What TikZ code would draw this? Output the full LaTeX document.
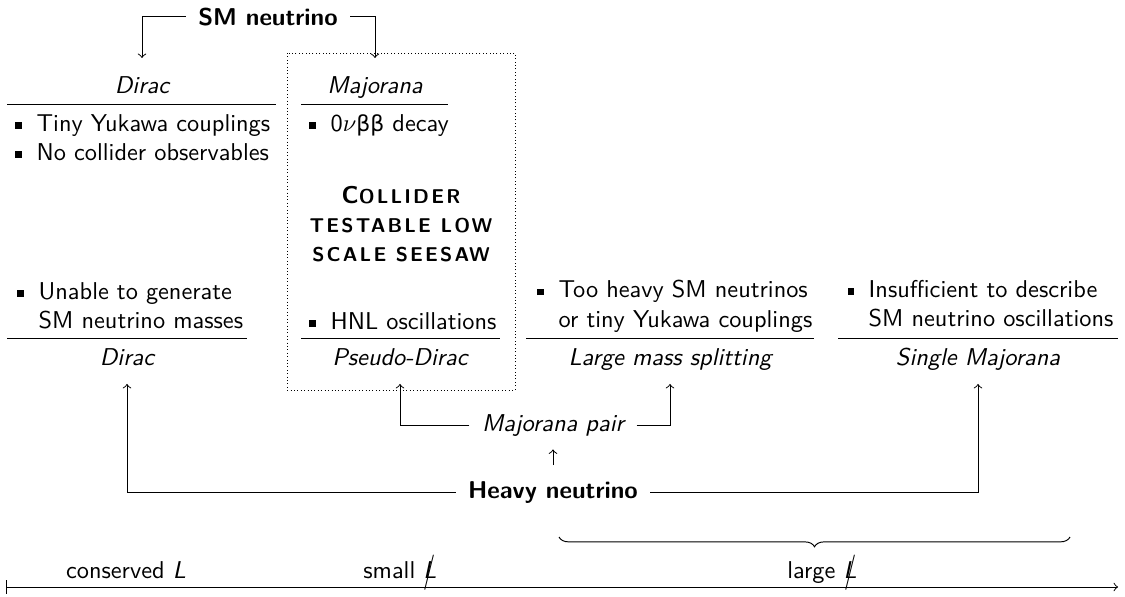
\documentclass[tikz,border=0pt]{standalone}
\usepackage{fontspec}
\usetikzlibrary{decorations.pathreplacing}
\newfontfamily\grkfont[Scale=0.9]{DejaVu Sans}
\newfontfamily\scfam[LetterSpace=11]{lmsans10-bold.otf}
\newcommand{\sqbul}{\makebox[8.7pt][l]{\raisebox{1.1pt}{\rule{2.7pt}{2.7pt}}}}
\newcommand{\hang}{\hspace*{8.7pt}}
\newcommand{\scx}{\scfam\fontsize{8.2pt}{11.5pt}\selectfont}
\newcommand{\Lbar}{\ooalign{\textit{L}\cr\hidewidth\raisebox{-0.35ex}{\scalebox{1}[1.45]{/}}\hidewidth\cr}}
\begin{document}
\begin{tikzpicture}[x=0.411pt, y=-0.411pt, font=\sffamily,
	ttl/.style={font=\sffamily\itshape, anchor=base, text height=9.2pt, text depth=2.6pt, inner ysep=5pt},
	blk/.style={anchor=north west, align=left, inner sep=0pt},
	hdr/.style={anchor=base, inner xsep=5pt},
	arr/.style={->, black}]
	\useasboundingbox (0,0) rectangle (1125,596);

	\node[hdr, font=\sffamily\bfseries] (smnu) at (268,25) {SM neutrino};
	\node[ttl] (dirA) at (142,93) {Dirac};
	\node[ttl] (majA) at (375,93) {Majorana};
	\node[ttl] (dirB) at (127,365) {Dirac};
	\node[ttl] (psd) at (400,365) {Pseudo-Dirac};
	\node[ttl] (lms) at (670,365) {Large mass splitting};
	\node[ttl] (smaj) at (978,365) {Single Majorana};
	\node[hdr, font=\sffamily\itshape] (mp) at (553,431) {Majorana pair};
	\node[hdr, font=\sffamily\bfseries] (hn) at (553,498) {Heavy neutrino};

	\draw[arr] (smnu) -| (dirA);
	\draw[arr] (smnu) -| (majA);
	\draw[arr] (mp) -| (psd);
	\draw[arr] (mp) -| (lms);
	\draw[arr] (hn) -| (dirB);
	\draw[arr] (hn) -| (smaj);
	\draw[arr, shorten <=3pt, shorten >=2pt] (hn) -- (mp);

	\draw[black] (7,104) -- (276,104);
	\draw[black] (301,104) -- (448,104);
	\draw[black] (7,338) -- (247,338);
	\draw[black] (301,338) -- (500,338);
	\draw[black] (526,338) -- (814,338);
	\draw[black] (838,338) -- (1118,338);
	\draw[black, densely dotted] (287,53) rectangle (515,390);

	\node[blk] (txA) at (15,114) {\sqbul Tiny Yukawa couplings\\ \sqbul No collider observables};
	\node[blk] (txB) at (309,114) {\sqbul 0$\nu${\grkfont ββ} decay};
	\node[blk] (txC) at (17,282) {\sqbul Unable to generate\\ \hang SM neutrino masses};
	\node[blk] (txD) at (309,312) {\sqbul HNL oscillations};
	\node[blk] (txE) at (537,280) {\sqbul Too heavy SM neutrinos\\ \hang or tiny Yukawa couplings};
	\node[blk] (txF) at (847,280) {\sqbul Insufficient to describe\\ \hang SM neutrino oscillations};
	\node[align=center, font=\sffamily\bfseries] (seesaw) at (401,224) {C{\scx OLLIDER}\\{\scx TESTABLE LOW}\\{\scx SCALE SEESAW}};

	\draw[black, |->] (6,587) -- (1118,587);
	\draw[black, decorate, decoration={brace, mirror, amplitude=4pt}] (559,537) -- (1070,537);
	\node[anchor=base] (cons) at (126,578) {conserved \textit{L}};
	\node[anchor=base] (small) at (400,578) {small \Lbar};
	\node[anchor=base] (large) at (822,578) {large \Lbar};
\end{tikzpicture}
\end{document}
